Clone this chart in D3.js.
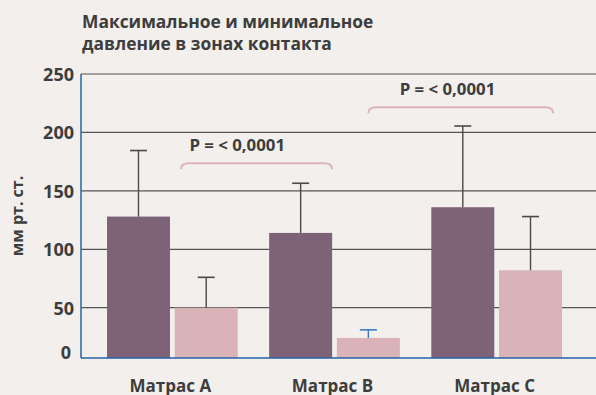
<!DOCTYPE html>
<html>
<head>
<meta charset="utf-8">
<script src="https://cdn.jsdelivr.net/npm/d3@7"></script>
<style>
  html, body { margin: 0; padding: 0; background: #f2efed; }
  svg { display: block; }
  text { font-family: "Open Sans", sans-serif; font-weight: 700; fill: #3d3d3d; }
</style>
</head>
<body>
<svg id="chart" width="596" height="395"></svg>
<script>
// ---- data ----
const categories = ["Матрас A", "Матрас B", "Матрас C"];
const series = ["max", "min"];
const maxValues = [128, 114, 136];
const maxErrorTop = [184.5, 156.5, 205.5];
const minValues = [50, 20, 82];
const minErrorTop = [76, 28, 128];
const yTicks = [0, 50, 100, 150, 200, 250];
const titleLines = ["Максимальное и минимальное", "давление в зонах контакта"];
const yLabel = "мм рт. ст.";
const pLabels = ["P = < 0,0001", "P = < 0,0001"];
const bracketLevels = [173.6, 221.5];

// ---- layout ----
const W = 596, H = 395;
const plot = { left: 81, right: 596, top: 74, bottom: 358 };
const colors = { max: "#7e6378", min: "#d9b3b8", grid: "#555555", axis: "#2563a8", err: "#4a4a4a", errBlue: "#3a7cc4", bracket: "#dcb4bb" };

const svg = d3.select("#chart");

const y = d3.scaleLinear().domain([0, 50, 250]).range([plot.bottom, 307.7, plot.top]);
const x = d3.scaleBand().domain(categories).range([107, 562]).paddingInner(0.194).paddingOuter(0);
const xs = d3.scaleBand().domain(series).range([0, x.bandwidth()]).paddingInner(0.07);

const rows = categories.map((c, i) => ({
  cat: c,
  bars: [
    { s: "max", v: maxValues[i], e: maxErrorTop[i] },
    { s: "min", v: minValues[i], e: minErrorTop[i] }
  ]
}));

// grid lines
svg.append("g")
  .selectAll("line")
  .data(yTicks.filter(d => d > 0))
  .join("line")
  .attr("x1", plot.left).attr("x2", plot.right)
  .attr("y1", d => y(d)).attr("y2", d => y(d))
  .attr("stroke", colors.grid).attr("stroke-width", 1.2);

// bars
const groups = svg.append("g").selectAll("g")
  .data(rows).join("g")
  .attr("transform", d => `translate(${x(d.cat)},0)`);

groups.selectAll("rect")
  .data(d => d.bars).join("rect")
  .attr("x", d => xs(d.s))
  .attr("width", xs.bandwidth())
  .attr("y", d => y(d.v))
  .attr("height", d => y(0) - y(d.v))
  .attr("fill", d => colors[d.s]);

// error bars
const capW = 17;
groups.selectAll("g.err")
  .data(d => d.bars.map(b => Object.assign({ cat: d.cat }, b))).join("g")
  .attr("class", "err")
  .each(function (d) {
    const g = d3.select(this);
    const cx = xs(d.s) + xs.bandwidth() / 2;
    const col = (d.cat === "Матрас B" && d.s === "min") ? colors.errBlue : colors.err;
    g.append("line").attr("x1", cx).attr("x2", cx).attr("y1", y(d.v)).attr("y2", y(d.e))
      .attr("stroke", col).attr("stroke-width", 1.4);
    g.append("line").attr("x1", cx - capW / 2).attr("x2", cx + capW / 2).attr("y1", y(d.e)).attr("y2", y(d.e))
      .attr("stroke", col).attr("stroke-width", 1.6);
  });

// axes
svg.append("line").attr("x1", plot.left).attr("x2", plot.left).attr("y1", plot.top).attr("y2", plot.bottom)
  .attr("stroke", colors.axis).attr("stroke-width", 1.5);
svg.append("line").attr("x1", plot.left).attr("x2", plot.right).attr("y1", plot.bottom).attr("y2", plot.bottom)
  .attr("stroke", colors.axis).attr("stroke-width", 1.6);

// y tick labels
const yAxis = d3.axisLeft(y).tickValues(yTicks).tickSize(0).tickPadding(0);
const ya = svg.append("g").attr("transform", `translate(${plot.left - 7},0)`).call(yAxis);
ya.select(".domain").remove();
ya.selectAll("text")
  .attr("font-size", 18).attr("font-family", "Open Sans").attr("font-weight", 700).attr("fill", "#3d3d3d")
  .attr("dy", d => d === 0 ? "-0.0em" : "0.35em")
  .attr("x", d => d === 0 ? -3 : 0);

// x labels
svg.append("g").selectAll("text")
  .data(categories).join("text")
  .attr("x", d => x(d) + x.bandwidth() / 2 - 2)
  .attr("y", 391.5)
  .attr("text-anchor", "middle")
  .attr("font-size", 17)
  .text(d => d);

// title
svg.append("g").selectAll("text")
  .data(titleLines).join("text")
  .attr("x", 82).attr("y", (d, i) => 27.7 + i * 21.8)
  .attr("font-size", 17.4)
  .text(d => d);

// y label
svg.append("text")
  .attr("transform", "translate(22.5,216) rotate(-90)")
  .attr("text-anchor", "middle")
  .attr("font-size", 16)
  .text(yLabel);

// significance brackets
const brackets = [
  { from: ["Матрас A", "min", 0.1], to: ["Матрас B", "max", 1.0], lvl: bracketLevels[0], label: pLabels[0], lf: 0.372 },
  { from: ["Матрас B", "min", 0.5], to: ["Матрас C", "min", 0.86], lvl: bracketLevels[1], label: pLabels[1], lf: 0.428 }
];
const pos = ([c, s, f]) => x(c) + xs(s) + f * xs.bandwidth();
brackets.forEach(b => {
  const x1 = pos(b.from), x2 = pos(b.to), yt = y(b.lvl), drop = 6, r = 8;
  const p = d3.path();
  p.moveTo(x1, yt + drop);
  p.quadraticCurveTo(x1, yt, x1 + r, yt);
  p.lineTo(x2 - r, yt);
  p.quadraticCurveTo(x2, yt, x2, yt + drop);
  svg.append("path").attr("d", p.toString()).attr("fill", "none")
    .attr("stroke", colors.bracket).attr("stroke-width", 2);
  svg.append("text")
    .attr("x", x1 + b.lf * (x2 - x1)).attr("y", yt - 12.3)
    .attr("text-anchor", "middle").attr("font-size", 16.8)
    .text(b.label);
});
</script>
</body>
</html>
